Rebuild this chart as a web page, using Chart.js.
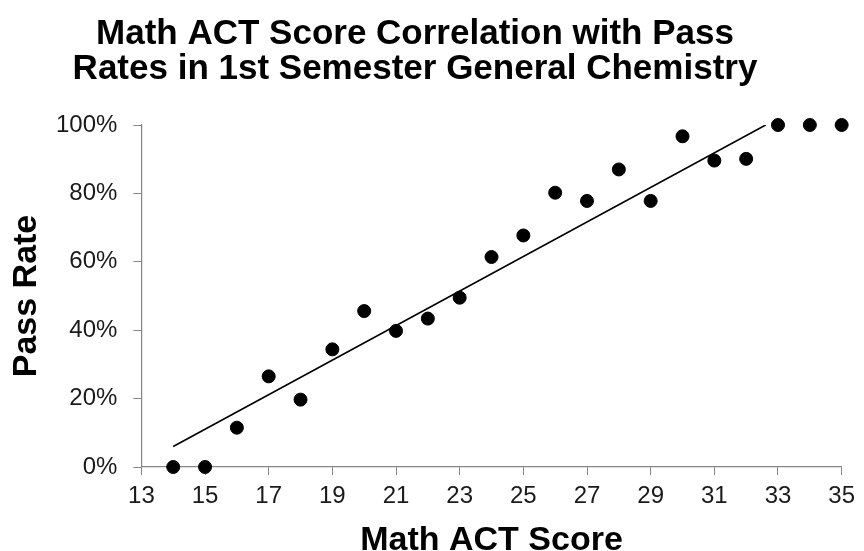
<!DOCTYPE html>
<html>
<head>
<meta charset="utf-8">
<script src="https://cdn.jsdelivr.net/npm/chart.js@4"></script>
<style>
  html, body { margin: 0; padding: 0; background: #fff; }
  #wrap { width: 864px; height: 551px; }
</style>
</head>
<body>
<div id="wrap"><canvas id="grafico"></canvas></div>
<script>
var scores = [14,15,16,17,18,19,20,21,22,23,24,25,26,27,28,29,30,31,32,33,34,35];
var passRates = [0,0,11.5,26.5,19.7,34.4,45.6,39.8,43.4,49.5,61.4,67.7,80.2,77.8,87.0,77.8,96.7,89.6,90.1,100,100,100];
var xTicks = [13,15,17,19,21,23,25,27,29,31,33,35];
var yTicks = [0,20,40,60,80,100];

// points for the scatter
var points = scores.map(function(s, i){ return {x: s, y: passRates[i]}; });

// linear trendline (least squares), cut off at 100%
var n = scores.length, mx = 0, my = 0;
for (var i = 0; i < n; i++) { mx += scores[i]; my += passRates[i]; }
mx /= n; my /= n;
var sxy = 0, sxx = 0;
for (var i = 0; i < n; i++) {
    sxy += (scores[i]-mx)*(passRates[i]-my);
    sxx += (scores[i]-mx)*(scores[i]-mx);
}
var slope = sxy/sxx, icpt = my - slope*mx;
var xStart = scores[0];
var xEnd = Math.min(scores[n-1], (100 - icpt)/slope);
var trend = [{x: xStart, y: icpt + slope*xStart}, {x: xEnd, y: icpt + slope*xEnd}];

var FONT = 'Arial, "Liberation Sans", sans-serif';
var AXIS = '#868686';

// the title sits a little left of the page centre
var shiftTitle = {
    id: 'shiftTitle',
    afterLayout: function(chart){
        if (chart.titleBlock) chart.titleBlock.right -= 34;
    }
};

var ctx = document.querySelector('#grafico').getContext('2d');
var chart = new Chart(ctx, {
    type: 'scatter',
    data: {
        datasets: [{
            label: 'Pass rate',
            data: points,
            backgroundColor: '#000',
            borderColor: '#000',
            pointRadius: 6.5,
            pointHoverRadius: 6.5,
            clip: false
        },
        {
            type: 'line',
            label: 'Linear trend',
            data: trend,
            borderColor: '#000',
            borderWidth: 1.6,
            pointRadius: 0,
            fill: false
        }]
    },
    options: {
        responsive: true,
        maintainAspectRatio: false,
        animation: false,
        layout: { padding: 0 },
        plugins: {
            legend: { display: false },
            tooltip: { enabled: false },
            title: {
                display: true,
                text: ['Math ACT Score Correlation with Pass', 'Rates in 1st Semester General Chemistry'],
                color: '#000',
                font: { family: FONT, size: 35, weight: 'bold', lineHeight: 1.0 },
                padding: { top: 17, bottom: 38 }
            }
        },
        scales: {
            x: {
                type: 'linear',
                min: 13,
                max: 35,
                afterBuildTicks: function(axis){ axis.ticks = xTicks.map(function(v){ return {value: v}; }); },
                ticks: { color: '#1a1a1a', font: { family: FONT, size: 24, lineHeight: 1.0 }, padding: 9, maxRotation: 0 },
                grid: { display: true, drawOnChartArea: false, color: AXIS, tickLength: 8, lineWidth: 1 },
                border: { display: true, color: AXIS, width: 1.2 },
                title: {
                    display: true,
                    text: 'Math ACT Score',
                    color: '#000',
                    font: { family: FONT, size: 34, weight: 'bold', lineHeight: 1.0 },
                    padding: { top: 7, bottom: -7 }
                }
            },
            y: {
                min: 0,
                max: 100,
                afterBuildTicks: function(axis){ axis.ticks = yTicks.map(function(v){ return {value: v}; }); },
                ticks: {
                    color: '#1a1a1a',
                    font: { family: FONT, size: 24 },
                    padding: 16,
                    callback: function(v){ return v + '%'; }
                },
                grid: { display: true, drawOnChartArea: false, color: AXIS, tickLength: 8, lineWidth: 1 },
                border: { display: true, color: AXIS, width: 1.2 },
                title: {
                    display: true,
                    text: 'Pass Rate',
                    color: '#000',
                    font: { family: FONT, size: 34, weight: 'bold', lineHeight: 1.0 },
                    padding: { top: 10, bottom: -4 }
                }
            }
        }
    },
    plugins: [shiftTitle]
});
</script>
</body>
</html>
